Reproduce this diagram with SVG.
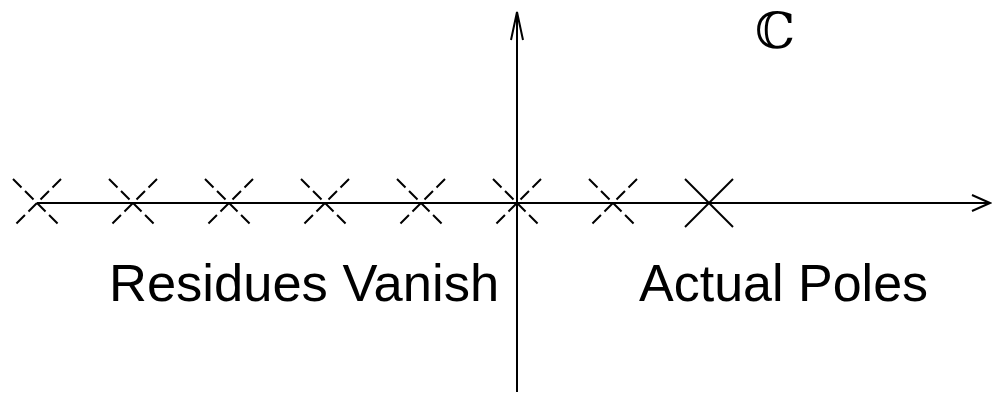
<svg xmlns="http://www.w3.org/2000/svg" width="992" height="394" viewBox="0 0 992 394">
<style>
.ax{stroke:#000;stroke-width:2;fill:none}
.ah{stroke:#000;stroke-width:2;fill:none;stroke-linejoin:miter}
.dc{stroke:#000;stroke-width:2;fill:none;stroke-dasharray:12 5}
.sc{stroke:#000;stroke-width:2;fill:none}
.lbl{font-family:"Liberation Sans",Arial,sans-serif;font-size:52.5px;fill:#000}
</style>
<rect width="992" height="394" fill="#fff"/>
<g id="connectors">
<line class="ax" x1="37" y1="203" x2="989" y2="203"/>
<path class="ah" d="M972,195 L990,203 L972,211"/>
<line class="ax" x1="517" y1="392" x2="517" y2="12"/>
<path class="ah" d="M511,40 L517,12 L523,40"/>
</g>
<g id="vanishing-poles">
<g id="p1"><line class="dc" x1="13" y1="179" x2="61" y2="227"/><line class="dc" x1="61" y1="179" x2="13" y2="227"/></g>
<g id="p2"><line class="dc" x1="109" y1="179" x2="157" y2="227"/><line class="dc" x1="157" y1="179" x2="109" y2="227"/></g>
<g id="p3"><line class="dc" x1="205" y1="179" x2="253" y2="227"/><line class="dc" x1="253" y1="179" x2="205" y2="227"/></g>
<g id="p4"><line class="dc" x1="301" y1="179" x2="349" y2="227"/><line class="dc" x1="349" y1="179" x2="301" y2="227"/></g>
<g id="p5"><line class="dc" x1="397" y1="179" x2="445" y2="227"/><line class="dc" x1="445" y1="179" x2="397" y2="227"/></g>
<g id="p6"><line class="dc" x1="493" y1="179" x2="541" y2="227"/><line class="dc" x1="541" y1="179" x2="493" y2="227"/></g>
<g id="p7"><line class="dc" x1="589" y1="179" x2="637" y2="227"/><line class="dc" x1="637" y1="179" x2="589" y2="227"/></g>
</g>
<g id="actual-pole"><line class="sc" x1="685" y1="179" x2="733" y2="227"/><line class="sc" x1="733" y1="179" x2="685" y2="227"/></g>
<g id="label-residues"><text class="lbl" x="109" y="301">Residues Vanish</text></g>
<g id="label-poles"><text class="lbl" x="639" y="301" style="font-size:52px">Actual Poles</text></g>
<g id="label-C"><text x="755" y="48" font-family="'DejaVu Serif','DejaVu Sans',serif" font-size="50" fill="#000">ℂ</text></g>
</svg>
